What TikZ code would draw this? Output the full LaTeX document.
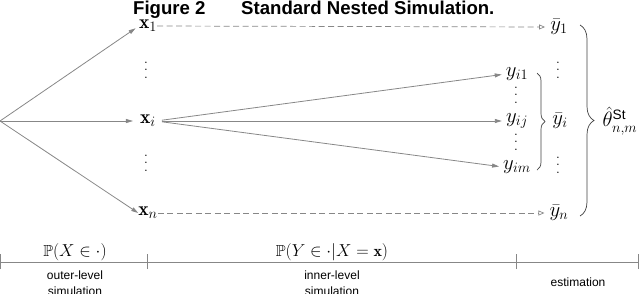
\documentclass[tikz,border=0pt]{standalone}
\usepackage{amsmath,amssymb}
\usepackage{fontspec}
\setsansfont{Liberation Sans}
\usetikzlibrary{arrows.meta,decorations.pathreplacing}
\definecolor{lg}{RGB}{135,135,135}
\newcommand{\vdt}{\vbox{\baselineskip7.5pt\lineskiplimit0pt\hbox{.}\hbox{.}\hbox{.}}}
\begin{document}
\begin{tikzpicture}[x=1pt,y=-1pt,
  m/.style={font=\fontsize{16}{19}\selectfont, inner sep=0pt},
  nd/.style={font=\fontsize{19.5}{23}\selectfont, inner sep=0pt},
  vd/.style={font=\fontsize{17}{20}\selectfont, inner sep=0pt},
  lab/.style={font=\sffamily\fontsize{12}{15.5}\selectfont, align=center, inner sep=0pt},
  ttl/.style={font=\sffamily\bfseries\fontsize{18.6}{22}\selectfont, inner sep=0pt, anchor=base west},
  sarr/.style={draw=lg, line width=0.8pt, -{Triangle[length=7pt,width=4pt]}},
  darr/.style={draw=lg, line width=0.7pt, dash pattern=on 6pt off 3.5pt, -{Triangle[open,length=6pt,width=5pt]}},
  brc/.style={draw=black!75, line width=0.7pt, decorate, decoration={brace, amplitude=#1}},
  tl/.style={draw=lg, line width=0.8pt},
]
\useasboundingbox (0,0) rectangle (640,293);
% title
\node[ttl] (t1) at (133,14) {Figure 2};
\node[ttl] (t2) at (241,14) {Standard Nested Simulation.};
% origin
\coordinate (o) at (0,121);
% outer nodes
\node[nd] (x1) at (148,26) {$\mathbf{x}_1$};
\node[nd] (xi) at (148,121) {$\mathbf{x}_i$};
\node[nd] (xn) at (148,213) {$\mathbf{x}_n$};
\node[vd] (d1) at (146,70) {\vdt};
\node[vd] (d2) at (146,163) {\vdt};
% inner nodes
\node[nd] (yi1) at (517,74) {$y_{i1}$};
\node[nd] (yij) at (517,121) {$y_{ij}$};
\node[nd] (yim) at (517,167) {$y_{im}$};
\node[vd] (d3) at (516,95) {\vdt};
\node[vd] (d4) at (516,142) {\vdt};
% means
\node[nd] (yb1) at (559,27) {$\bar{y}_1$};
\node[nd] (ybi) at (560,121) {$\bar{y}_i$};
\node[nd] (ybn) at (559,213) {$\bar{y}_n$};
\node[vd] (d5) at (558,70) {\vdt};
\node[vd] (d6) at (558,165) {\vdt};
\node[nd] (th) at (620,121) {$\hat{\theta}^{\mathsf{St}}_{n,m}$};
% arrows
\draw[sarr, shorten >=4pt] (o) -- (x1.west);
\draw[sarr, shorten >=7pt] (o) -- (xi.west);
\draw[sarr, shorten >=0pt] (o) -- (xn.west);
\draw[sarr, shorten <=6pt, shorten >=4pt] (xi.east) -- (yi1.west);
\draw[sarr, shorten <=6pt, shorten >=4pt] (xi.east) -- (yij.west);
\draw[sarr, shorten <=6pt, shorten >=4pt] (xi.east) -- (yim.west);
\draw[darr, shorten >=5pt] (x1.east) -- (yb1.west);
\draw[darr, shorten >=5pt] (xn.east) -- (ybn.west);
% braces
\coordinate (b1a) at (537,73);
\coordinate (b1b) at (537,170);
\draw[brc=8pt] (b1a) -- (b1b);
\coordinate (b2a) at (580,25);
\coordinate (b2b) at (580,216);
\draw[brc=14pt] (b2a) -- (b2b);
% timeline
\coordinate (l0) at (0,262);
\coordinate (l1) at (147,262);
\coordinate (l2) at (516,262);
\coordinate (l3) at (638,262);
\draw[tl] (l0) -- (l3);
\foreach \p in {l0,l1,l2,l3} \draw[tl] ([yshift=-7pt]\p) -- ([yshift=8pt]\p);
\node[m, anchor=base] (p1) at (75,256) {$\mathbb{P}(X\in\cdot)$};
\node[m, anchor=base] (p2) at (332,256) {$\mathbb{P}(Y\in\cdot|X=\mathbf{x})$};
\node[lab] (s1) at (75,283) {outer-level\\simulation};
\node[lab] (s2) at (332,283) {inner-level\\simulation};
\node[lab, anchor=base] (s3) at (578,286) {estimation};
\end{tikzpicture}
\end{document}
